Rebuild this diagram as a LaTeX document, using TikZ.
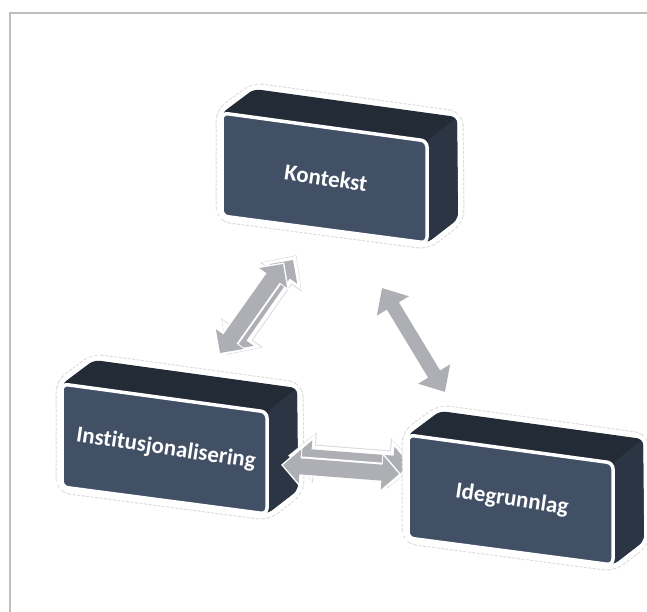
\documentclass[tikz,border=0pt]{standalone}
\usepackage[RGB]{xcolor}
\usepackage{fontspec}
\setmainfont{Carlito}[Ligatures=NoCommon]
\usetikzlibrary{arrows.meta}
\definecolor{B}{RGB}{35,43,55}
\definecolor{S}{RGB}{44,53,68}
\definecolor{F}{RGB}{66,80,102}
\definecolor{A}{RGB}{173,175,180}
\definecolor{H}{RGB}{218,218,218}
\definecolor{R}{RGB}{190,190,190}
\tikzset{
  flatarrow/.style={A, line width=14bp, {Triangle[width=36bp,length=21bp]}-{Triangle[width=36bp,length=21bp]}},
  backarrow/.style={A, line width=16bp, {Triangle[width=33bp,length=17bp]}-{Triangle[width=33bp,length=17bp]},
    preaction={draw=H, line width=26bp, shorten <=-6bp, shorten >=-6bp, {Triangle[width=49bp,length=27bp]}-{Triangle[width=49bp,length=27bp]}},
    preaction={draw=white, line width=24bp, shorten <=-5bp, shorten >=-5bp, {Triangle[width=46bp,length=25bp]}-{Triangle[width=46bp,length=25bp]}}},
  frontarrow/.style={A, line width=16bp, {Triangle[width=33bp,length=17bp]}-{Triangle[width=33bp,length=17bp]},
    preaction={draw=white, line width=20bp, shorten <=-2bp, shorten >=-2bp, {Triangle[width=39bp,length=20bp]}-{Triangle[width=39bp,length=20bp]}}},
  label/.style={text=white, font=\bfseries\fontsize{23}{23}\selectfont, rotate=-8.5}
}
\newcommand{\drawblock}[4]{
  \begin{scope}[shift={(#2,#3)}]
    \draw[H, dash pattern=on 3bp off 1.5bp, line width=13bp, rounded corners=9bp, line join=round] (0,0)--(32,-24)--(235,4)--(236,106)--(205,130)--(0,103)--cycle;
    \draw[white, line width=11bp, rounded corners=9bp, line join=round] (0,0)--(32,-24)--(235,4)--(236,106)--(205,130)--(0,103)--cycle;
    \fill[B, rounded corners=6bp] (0,0)--(32,-24)--(235,4)--(236,106)--(205,130)--(0,103)--cycle;
    \fill[S, rounded corners=6bp] (205,28)--(235,4)--(236,106)--(205,130)--cycle;
    \draw[white, line width=3.5bp, fill=F, rounded corners=6bp] (0,0)--(205,28)--(205,130)--(0,103)--cycle;
    \node[label] (#1) at (104,65) {#4};
  \end{scope}
}

\begin{document}
\begin{tikzpicture}[x=1bp,y=-1bp]
\useasboundingbox (0,0) rectangle (647,612);
\draw[R, line width=2bp] (10,612)--(10,13)--(647,13);
\drawblock{kontekst}{222}{113}{Kontekst}
\drawblock{inst}{62}{384}{Institusjonalisering}
\coordinate (ab1) at (230,350); \coordinate (ab2) at (293,260);
\coordinate (af1) at (220,353); \coordinate (af2) at (283,264);
\coordinate (b1) at (382,288); \coordinate (b2) at (445,392);
\coordinate (cb1) at (294,456); \coordinate (cb2) at (410,465);
\coordinate (cf1) at (283,465); \coordinate (cf2) at (399,474);
\draw[backarrow] (ab1) -- (ab2);
\draw[frontarrow] (af1) -- (af2);
\draw[flatarrow] (b1) -- (b2);
\draw[backarrow] (cb1) -- (cb2);
\draw[frontarrow] (cf1) -- (cf2);
\drawblock{idegrunnlag}{408}{435}{Idegrunnlag}
\end{tikzpicture}
\end{document}
